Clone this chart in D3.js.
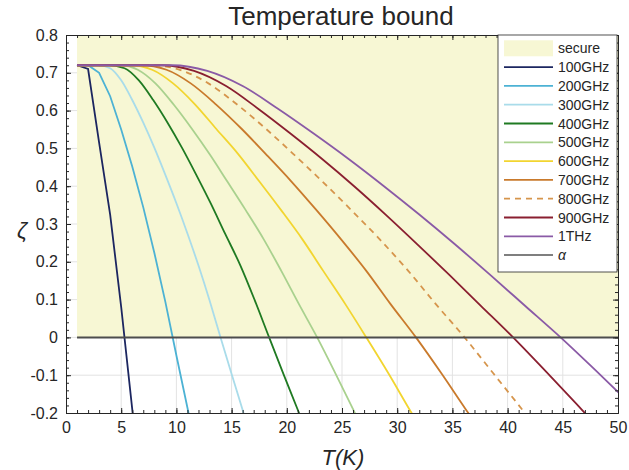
<!DOCTYPE html>
<html>
<head>
<meta charset="utf-8">
<script src="https://cdn.jsdelivr.net/npm/d3@7"></script>
<style>
  body { margin: 0; background: #fff; }
  text { font-family: "Liberation Sans", Arial, sans-serif; fill: #262626; }
</style>
</head>
<body>
<svg id="chart" width="629" height="470"></svg>
<script>
// ---- data ----
var xTicks = [0, 5, 10, 15, 20, 25, 30, 35, 40, 45, 50];
var yTicks = [-0.2, -0.1, 0, 0.1, 0.2, 0.3, 0.4, 0.5, 0.6, 0.7, 0.8];
var yTickLabels = ["-0.2", "-0.1", "0", "0.1", "0.2", "0.3", "0.4", "0.5", "0.6", "0.7", "0.8"];
var secureT = [1, 50];
var secureZeta = [0, 0.8];
var alphaLevel = 0;

var seriesNames = ["100GHz", "200GHz", "300GHz", "400GHz", "500GHz", "600GHz", "700GHz", "800GHz", "900GHz", "1THz"];

var f100GHz = [[1, .72], [2, .71], [3, .515], [4, .325], [5, .08], [6, -.19], [7, -.47]];
var f200GHz = [[1, .72], [2, .72], [3, .70], [4, .638], [5, .55], [6, .452], [7, .344], [8, .224], [9, .094], [10, -.048], [11, -.186], [12, -.33]];
var f300GHz = [[1, .72], [3, .72], [4, .712], [5, .68], [6, .628], [7, .568], [8, .502], [9, .43], [10, .355], [11, .275], [12, .19], [13, .098], [14, 0], [15, -.097], [16, -.192], [17, -.29]];
var f400GHz = [[1, .72], [3.9, .72], [5.3, .712], [6.6, .68], [7.9, .628], [9.2, .568], [10.5, .502], [11.8, .43], [13.1, .355], [14.4, .275], [15.8, .19], [17.1, .098], [18.4, 0], [19.7, -.097], [21, -.192], [22.3, -.29]];
var f500GHz = [[1, .72], [4.9, .72], [6.5, .708], [8.1, .672], [9.75, .616], [11.4, .552], [13, .485], [14.6, .413], [16.25, .338], [17.9, .26], [19.5, .176], [21.1, .088], [22.75, 0], [24.4, -.095], [26, -.19], [27.6, -.287]];
var f600GHz = [[1, .72], [5.8, .72], [7.8, .708], [9.7, .672], [11.7, .616], [13.6, .552], [15.6, .485], [17.5, .413], [19.45, .338], [21.4, .26], [23.3, .176], [25.3, .088], [27.2, 0], [29.2, -.095], [31.1, -.19], [33.1, -.287]];
var f700GHz = [[1, .72], [6.8, .72], [9.1, .708], [11.3, .672], [13.6, .616], [15.9, .552], [18.1, .485], [20.4, .413], [22.65, .338], [24.9, .26], [27.2, .176], [29.4, .088], [31.7, 0], [34, -.095], [36.2, -.19], [38.5, -.287]];
var f800GHz = [[1, .72], [7.7, .72], [10.3, .708], [12.9, .672], [15.5, .616], [18.1, .552], [20.6, .485], [23.2, .413], [25.8, .338], [28.4, .26], [31, .176], [33.5, .088], [36.1, 0], [38.7, -.095], [41.3, -.19], [43.9, -.287]];
var f900GHz = [[1, .72], [8.7, .72], [11.6, .705], [14.5, .665], [17.4, .605], [20.3, .54], [23.2, .472], [26.1, .4], [28.95, .325], [31.8, .247], [34.7, .166], [37.6, .083], [40.5, 0], [43.4, -.088], [46.3, -.178], [49.2, -.27], [52.1, -.36]];
var f1THz = [[1, .72], [9.6, .72], [12.8, .705], [16, .665], [19.2, .605], [22.4, .54], [25.6, .472], [28.8, .4], [32, .325], [35.2, .247], [38.4, .166], [41.6, .083], [44.8, 0], [48, -.088], [51.2, -.178]];

var seriesData = [f100GHz, f200GHz, f300GHz, f400GHz, f500GHz, f600GHz, f700GHz, f800GHz, f900GHz, f1THz];

// ---- styles ----
var seriesColors = ["#1c2660", "#4cb2d4", "#a9dcea", "#1f7a22", "#a9d18e", "#f2d530", "#c97a2c", "#d6954c", "#8a1f30", "#8a5aa6"];
var secureFill = "#f7f7d4";
var axisColor = "#262626";

var svg = d3.select("#chart");
var x = d3.scaleLinear().domain([0, 50]).range([66, 618]);
var y = d3.scaleLinear().domain([-0.2, 0.8]).range([413, 35]);

// grid
var grid = svg.append("g");
grid.selectAll(".vg").data(xTicks.slice(1, -1)).enter().append("line")
    .attr("x1", function (d) { return x(d); }).attr("x2", function (d) { return x(d); })
    .attr("y1", y(-0.2)).attr("y2", y(0.8))
    .attr("stroke", "#e3e3e3").attr("stroke-width", 1);
grid.selectAll(".hg").data(yTicks.slice(1, -1)).enter().append("line")
    .attr("y1", function (d) { return y(d); }).attr("y2", function (d) { return y(d); })
    .attr("x1", x(0)).attr("x2", x(50))
    .attr("stroke", "#e3e3e3").attr("stroke-width", 1);

// secure band
svg.append("rect")
    .attr("x", x(secureT[0])).attr("y", y(secureZeta[1]))
    .attr("width", x(secureT[1]) - x(secureT[0]))
    .attr("height", y(secureZeta[0]) - y(secureZeta[1]))
    .attr("fill", secureFill);

// curves
svg.append("clipPath").attr("id", "plotclip").append("rect")
    .attr("x", x(0)).attr("y", y(0.8))
    .attr("width", x(50) - x(0)).attr("height", y(-0.2) - y(0.8));

var curves = svg.append("g").attr("clip-path", "url(#plotclip)");
seriesData.forEach(function (pts, i) {
    var line = d3.line()
        .x(function (d) { return x(d[0]); })
        .y(function (d) { return y(d[1]); })
        .curve(i < 2 ? d3.curveLinear : d3.curveMonotoneX);
    curves.append("path")
        .attr("d", line(pts))
        .attr("fill", "none")
        .attr("stroke", seriesColors[i])
        .attr("stroke-width", 1.8)
        .attr("stroke-dasharray", seriesNames[i] === "800GHz" ? "6,5" : null);
});

// alpha line
svg.append("line")
    .attr("x1", x(secureT[0])).attr("x2", x(secureT[1]))
    .attr("y1", y(alphaLevel)).attr("y2", y(alphaLevel))
    .attr("stroke", "#4d4d4d").attr("stroke-width", 2);

// axes
function styleAxis(g) {
    g.selectAll("path").attr("stroke", axisColor);
    g.selectAll("line").attr("stroke", axisColor);
    g.selectAll("text").attr("font-size", 16).attr("fill", "#333");
}
var minorX = d3.range(0, 51, 1);
var minorY = d3.range(-0.2, 0.801, 0.02);

svg.append("g").attr("transform", "translate(0," + y(-0.2) + ")")
    .call(d3.axisBottom(x).tickValues(xTicks).tickSize(-5).tickSizeOuter(0).tickPadding(9))
    .call(styleAxis);
svg.append("g").attr("transform", "translate(0," + y(-0.2) + ")")
    .call(d3.axisBottom(x).tickValues(minorX).tickFormat("").tickSize(-3).tickSizeOuter(0))
    .call(styleAxis);
svg.append("g").attr("transform", "translate(0," + y(0.8) + ")")
    .call(d3.axisTop(x).tickValues(xTicks).tickFormat("").tickSize(-5).tickSizeOuter(0))
    .call(styleAxis);
svg.append("g").attr("transform", "translate(0," + y(0.8) + ")")
    .call(d3.axisTop(x).tickValues(minorX).tickFormat("").tickSize(-3).tickSizeOuter(0))
    .call(styleAxis);

svg.append("g").attr("transform", "translate(" + x(0) + ",0)")
    .call(d3.axisLeft(y).tickValues(yTicks).tickFormat(function (d, i) { return yTickLabels[i]; })
        .tickSize(-5).tickSizeOuter(0).tickPadding(8))
    .call(styleAxis);
svg.append("g").attr("transform", "translate(" + x(0) + ",0)")
    .call(d3.axisLeft(y).tickValues(minorY).tickFormat("").tickSize(-3).tickSizeOuter(0))
    .call(styleAxis);
svg.append("g").attr("transform", "translate(" + x(50) + ",0)")
    .call(d3.axisRight(y).tickValues(yTicks).tickFormat("").tickSize(-5).tickSizeOuter(0))
    .call(styleAxis);
svg.append("g").attr("transform", "translate(" + x(50) + ",0)")
    .call(d3.axisRight(y).tickValues(minorY).tickFormat("").tickSize(-3).tickSizeOuter(0))
    .call(styleAxis);

// titles
svg.append("text").attr("x", 341).attr("y", 25).attr("text-anchor", "middle")
    .attr("font-size", 26).attr("fill", "#000").text("Temperature bound");
svg.append("text").attr("x", 343).attr("y", 465).attr("text-anchor", "middle")
    .attr("font-size", 22).attr("font-style", "italic").text("T(K)");
svg.append("text").attr("x", 22).attr("y", 238).attr("text-anchor", "middle")
    .attr("font-size", 22).attr("font-style", "italic").text("ζ");

// legend
var legendItems = ["secure"].concat(seriesNames).concat(["α"]);
var lg = svg.append("g");
lg.append("rect").attr("x", 498).attr("y", 35).attr("width", 119).attr("height", 237)
    .attr("fill", "#fff").attr("stroke", axisColor).attr("stroke-width", 0.8);
legendItems.forEach(function (name, i) {
    var cy = 48.3 + i * 18.8;
    if (i === 0) {
        lg.append("rect").attr("x", 504).attr("y", cy - 8).attr("width", 49).attr("height", 16)
            .attr("fill", secureFill);
    } else if (i <= seriesNames.length) {
        lg.append("line").attr("x1", 504).attr("x2", 553).attr("y1", cy).attr("y2", cy)
            .attr("stroke", seriesColors[i - 1]).attr("stroke-width", 1.8)
            .attr("stroke-dasharray", name === "800GHz" ? "6,5" : null);
    } else {
        lg.append("line").attr("x1", 504).attr("x2", 553).attr("y1", cy).attr("y2", cy)
            .attr("stroke", "#555").attr("stroke-width", 1.5);
    }
    var t = lg.append("text").attr("x", 558).attr("y", cy).attr("dy", "0.36em")
        .attr("font-size", 14).text(name);
    if (name === "α") t.attr("font-family", "'Liberation Serif', serif").attr("font-style", "italic");
});
</script>
</body>
</html>
